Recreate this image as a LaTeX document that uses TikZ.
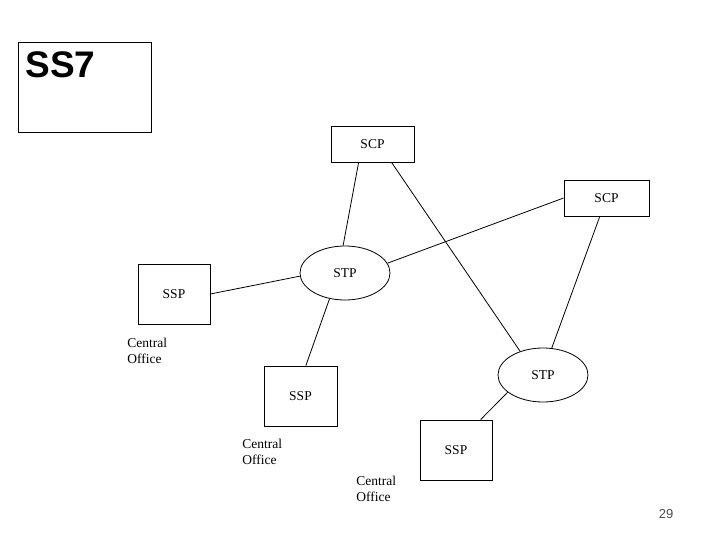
\documentclass[tikz,border=0pt]{standalone}
\usepackage{fontspec}
\setmainfont{Liberation Serif}
\newfontfamily\titlefont{Liberation Sans}
\usetikzlibrary{shapes.geometric}

\begin{document}
\begin{tikzpicture}[
  x=1pt, y=-1pt, line width=0.8pt,
  every node/.style={font=\fontsize{13.5}{16}\selectfont},
  box/.style={rectangle,draw,inner sep=0pt},
  stp/.style={ellipse,draw,minimum width=90pt,minimum height=54pt,inner sep=0pt},
  office/.style={align=left,anchor=west,inner sep=0pt}
]
\useasboundingbox (0,0) rectangle (720,540);

% --- Title ---
\node[box,minimum width=133pt,minimum height=90pt] (frame) at (84.5,87) {};
\node[anchor=north west,inner sep=0pt,font=\titlefont\bfseries\fontsize{37}{40}\selectfont]
  (title) at (25,51) {SS7};

% --- Nodes ---
\node[box,minimum width=83pt,minimum height=36pt] (scp1) at (372.5,144) {SCP};
\node[box,minimum width=85pt,minimum height=36pt] (scp2) at (606.5,198) {SCP};
\node[stp] (stp1) at (345,273) {STP};
\node[stp] (stp2) at (543,375) {STP};
\node[box,minimum width=72pt,minimum height=60pt] (ssp1) at (174,294) {SSP};
\node[box,minimum width=73pt,minimum height=60pt] (ssp2) at (300.5,396) {SSP};
\node[box,minimum width=72pt,minimum height=60pt] (ssp3) at (456,450) {SSP};

\node[office] (co1) at (127,351) {Central\\Office};
\node[office] (co2) at (242,452) {Central\\Office};
\node[office] (co3) at (356,489) {Central\\Office};

\node[font=\titlefont\fontsize{13}{15}\selectfont,text=black!70] (page) at (666,514) {29};

% --- Links ---
\path
  (scp1.233) edge (stp1.94)
  (scp1.316) edge (stp2.134)
  (scp2.west) edge (stp1.13)
  (scp2.250) edge (stp2.72)
  (ssp1.east) edge (stp1.184)
  (stp1.239) edge (ssp2.80)
  (stp2.206) edge (ssp3.51);

\end{tikzpicture}
\end{document}
